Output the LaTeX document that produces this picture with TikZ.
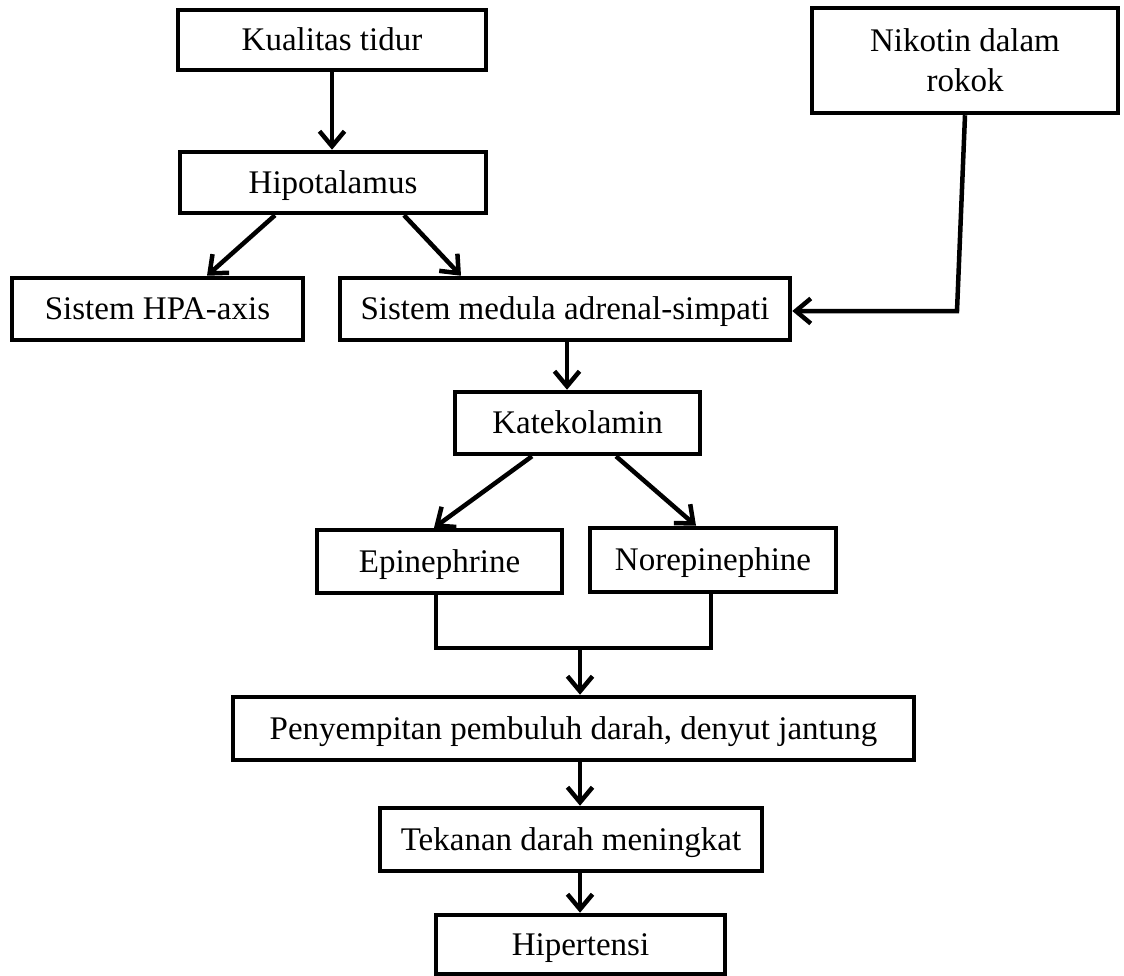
\documentclass[tikz,border=0pt]{standalone}
\usepackage{fontspec}
\setmainfont{Liberation Serif}
\usetikzlibrary{arrows.meta,positioning,calc}

\begin{document}
\begin{tikzpicture}[
    x=1pt, y=-1pt,
    flowbox/.style={rectangle, draw, line width=4.5pt, inner sep=0pt, align=center, font=\fontsize{33}{40}\selectfont},
    onebox/.style={flowbox, text height=29pt, text depth=7.3pt},
    arr/.style={line width=4.5pt, -{Straight Barb[length=15pt,width=25pt]}}
]
\useasboundingbox (0,0) rectangle (1124,976);

% Causes
\node[onebox, minimum width=308pt, minimum height=60pt] (kualitas) at (332,40) {Kualitas tidur};
\node[flowbox, minimum width=306pt, minimum height=105pt] (nikotin) at (965,60.5) {Nikotin dalam\\rokok};
\node[onebox, minimum width=306pt, minimum height=61pt] (hipotalamus) at (333,182.5) {Hipotalamus};

% Systems
\node[onebox, minimum width=291pt, minimum height=62pt] (hpa) at (157.5,309) {Sistem HPA-axis};
\node[onebox, minimum width=450pt, minimum height=62pt] (medula) at (565,309) {Sistem medula adrenal-simpati};

% Hormones
\node[onebox, minimum width=245pt, minimum height=62pt] (katekolamin) at (577.5,423) {Katekolamin};
\node[onebox, minimum width=245pt, minimum height=63pt] (epinephrine) at (439.5,561.5) {Epinephrine};
\node[onebox, minimum width=246pt, minimum height=64pt] (norepinephrine) at (713,560) {Norepinephine};

% Effects
\node[onebox, minimum width=681pt, minimum height=63pt] (penyempitan) at (573.5,728.5) {Penyempitan pembuluh darah, denyut jantung};
\node[onebox, minimum width=382pt, minimum height=63pt] (tekanan) at (571,839.5) {Tekanan darah meningkat};
\node[onebox, minimum width=289pt, minimum height=59pt] (hipertensi) at (580.5,944.5) {Hipertensi};

\coordinate (bend) at (957,311);
\coordinate (join) at (580,648);

% Connectors
\draw[arr] (kualitas.south) -- (kualitas.south |- hipotalamus.north);
\draw[arr] ([xshift=-58pt]hipotalamus.south) -- ([xshift=49.5pt]hpa.north);
\draw[arr] ([xshift=71pt]hipotalamus.south) -- ([xshift=-104pt]medula.north);
\draw[arr] (nikotin.south) -- (bend) -- (bend -| medula.east);
\draw[arr] ([xshift=2pt]medula.south) -- ([xshift=2pt]medula.south |- katekolamin.north);
\draw[arr] ([xshift=-45.5pt]katekolamin.south) -- ([xshift=-5.5pt]epinephrine.north);
\draw[arr] ([xshift=38.5pt]katekolamin.south) -- ([xshift=-17pt]norepinephrine.north);
\draw[line width=4.5pt] ([xshift=-3.5pt]epinephrine.south) -- ([xshift=-3.5pt]epinephrine.south |- join) -- ([xshift=-2pt]norepinephrine.south |- join) -- ([xshift=-2pt]norepinephrine.south);
\draw[arr] (join) -- (join |- penyempitan.north);
\draw[arr] (join |- penyempitan.south) -- (join |- tekanan.north);
\draw[arr] (join |- tekanan.south) -- (join |- hipertensi.north);

\end{tikzpicture}
\end{document}
